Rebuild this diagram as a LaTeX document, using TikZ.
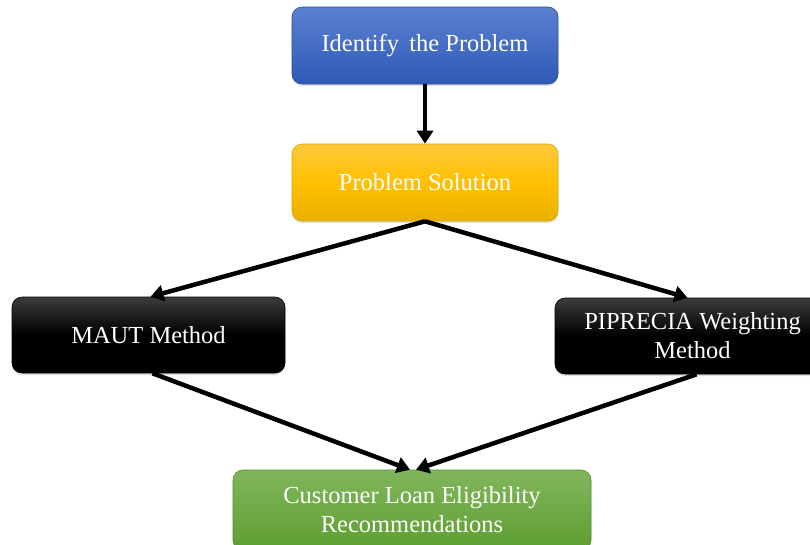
\documentclass[tikz,border=0pt]{standalone}
\usepackage{fontspec}
\setmainfont{Liberation Serif}
\usetikzlibrary{arrows.meta,shadows}
\definecolor{bluetop}{RGB}{92,128,208}
\definecolor{bluebot}{RGB}{45,90,182}
\definecolor{blueline}{RGB}{40,75,150}
\definecolor{yeltop}{RGB}{255,200,60}
\definecolor{yelmid}{RGB}{255,192,0}
\definecolor{yelbot}{RGB}{234,176,0}
\definecolor{yelline}{RGB}{220,165,0}
\definecolor{blktop}{RGB}{60,60,60}
\definecolor{grntop}{RGB}{128,182,92}
\definecolor{grnbot}{RGB}{94,158,50}
\definecolor{grnline}{RGB}{80,140,40}
\begin{document}
\begin{tikzpicture}[x=1pt,y=-1pt,
  box/.style={draw=#1, line width=0.6pt, rounded corners=10pt, align=center,
    text=white, font=\fontsize{24.5}{29}\selectfont, inner sep=0pt,
    drop shadow={shadow xshift=0pt, shadow yshift=-2pt, opacity=0.25}},
  arr/.style={line width=4.5pt, -{Triangle[length=13pt,width=16pt]}},
]
\useasboundingbox (0,0) rectangle (810,544);
\clip (0,0) rectangle (810,544);
\node[box=blueline, minimum width=266pt, minimum height=77pt,
  top color=bluetop, bottom color=bluebot]
  (ident) at (425,45.5) {Identify\, the Problem};
\node[box=yelline, minimum width=266pt, minimum height=77pt,
  top color=yeltop, bottom color=yelbot, middle color=yelmid]
  (sol) at (425,182.5) {Problem Solution};
\node[box=black, minimum width=273pt, minimum height=76pt,
  top color=blktop, bottom color=black, middle color=black]
  (maut) at (148.5,335) {MAUT Method};
\node[box=black, minimum width=275pt, minimum height=76pt,
  top color=blktop, bottom color=black, middle color=black]
  (pip) at (692.5,336) {PIPRECIA Weighting\\Method};
\node[box=grnline, minimum width=358pt, minimum height=80pt,
  top color=grntop, bottom color=grnbot]
  (rec) at (412,510) {Customer Loan Eligibility\\Recommendations};
\draw[arr] (ident.south) -- (sol.north);
\draw[arr] (sol.south) -- ([xshift=2pt]maut.north);
\draw[arr] (sol.south) -- ([xshift=-5pt]pip.north);
\draw[arr] ([xshift=4pt]maut.south) -- ([xshift=-2pt]rec.north);
\draw[arr] ([xshift=4pt]pip.south) -- ([xshift=4pt]rec.north);
\end{tikzpicture}
\end{document}
